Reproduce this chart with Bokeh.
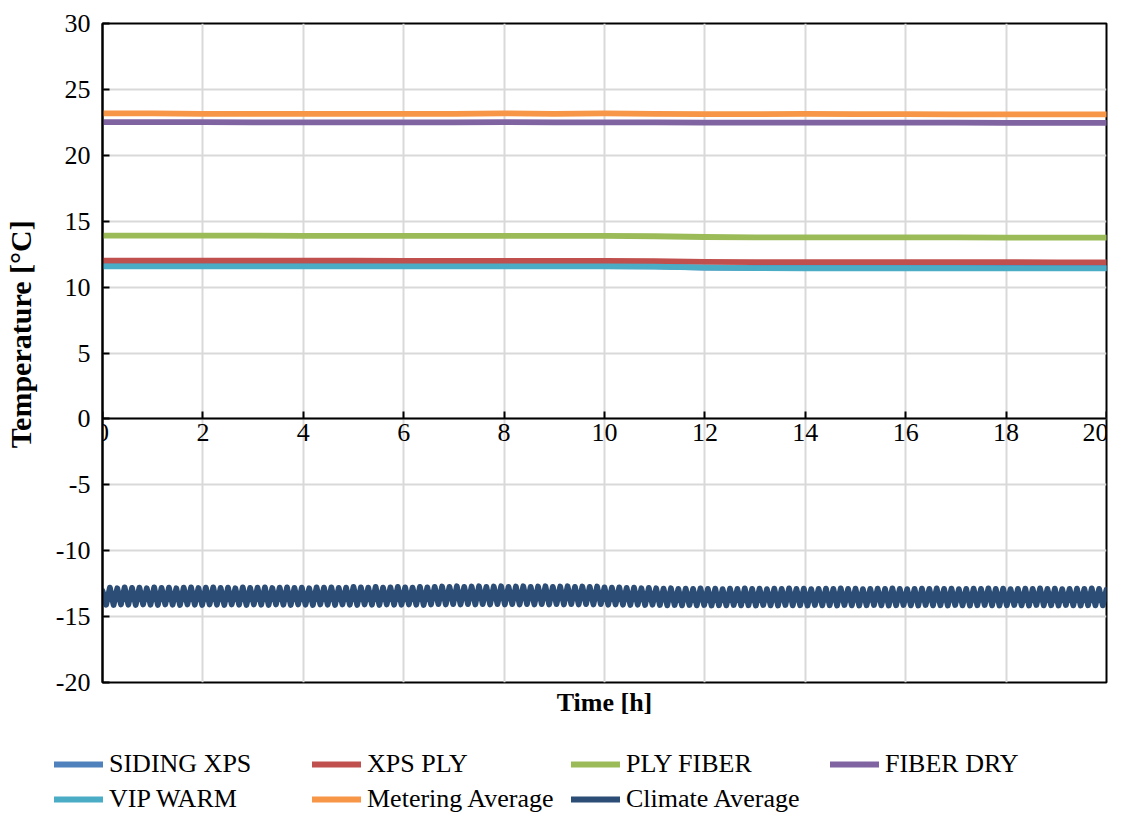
import numpy as np
from bokeh.plotting import figure
from bokeh.layouts import column, row
from bokeh.models import Legend, LegendItem, Range1d, FixedTicker, LinearAxis
from bokeh.embed import file_html
from bokeh.resources import INLINE

# ---------------- data ----------------
hours = list(range(21))
siding_xps = [11.60, 11.60, 11.60, 11.60, 11.60, 11.60, 11.60, 11.60, 11.60, 11.60, 11.60,
              11.58, 11.48, 11.46, 11.45, 11.45, 11.45, 11.45, 11.45, 11.45, 11.45]
xps_ply = [12.00, 12.00, 12.00, 12.00, 12.00, 12.00, 11.98, 11.98, 11.98, 11.98, 11.98,
           11.97, 11.92, 11.90, 11.90, 11.90, 11.90, 11.90, 11.90, 11.88, 11.88]
ply_fiber = [13.90, 13.90, 13.90, 13.90, 13.88, 13.88, 13.88, 13.88, 13.88, 13.88, 13.88,
             13.86, 13.80, 13.78, 13.77, 13.77, 13.77, 13.77, 13.76, 13.76, 13.76]
fiber_dry = [22.52, 22.52, 22.52, 22.50, 22.50, 22.50, 22.50, 22.50, 22.52, 22.50, 22.50,
             22.50, 22.48, 22.48, 22.48, 22.48, 22.48, 22.48, 22.46, 22.46, 22.46]
vip_warm = [11.58, 11.58, 11.58, 11.58, 11.58, 11.57, 11.57, 11.57, 11.57, 11.57, 11.57,
            11.55, 11.47, 11.44, 11.43, 11.43, 11.43, 11.43, 11.42, 11.42, 11.42]
metering_avg = [23.18, 23.18, 23.15, 23.15, 23.15, 23.15, 23.15, 23.15, 23.18, 23.15, 23.18,
                23.15, 23.12, 23.12, 23.15, 23.12, 23.12, 23.10, 23.10, 23.10, 23.10]
climate_avg = [
    -13.05, -14.10, -12.80, -14.12, -12.85, -14.08, -12.78, -14.10, -12.82, -14.12,
    -12.80, -14.08, -12.85, -14.10, -12.78, -14.12, -12.82, -14.08, -12.80, -14.10,
    -12.85, -14.12, -12.80, -14.08, -12.78, -14.10, -12.83, -14.12, -12.80, -14.08,
    -12.78, -14.10, -12.82, -14.12, -12.80, -14.08, -12.85, -14.10, -12.78, -14.12,
    -12.82, -14.08, -12.80, -14.10, -12.78, -14.12, -12.83, -14.08, -12.80, -14.10,
    -12.78, -14.12, -12.82, -14.08, -12.80, -14.10, -12.85, -14.12, -12.78, -14.08,
    -12.80, -14.10, -12.78, -14.12, -12.82, -14.08, -12.80, -14.10, -12.75, -14.12,
    -12.78, -14.08, -12.80, -14.10, -12.75, -14.12, -12.80, -14.08, -12.78, -14.10,
    -12.75, -14.10, -12.78, -14.08, -12.80, -14.10, -12.75, -14.12, -12.78, -14.08,
    -12.75, -14.05, -12.72, -14.08, -12.75, -14.05, -12.70, -14.08, -12.75, -14.05,
    -12.72, -14.08, -12.70, -14.05, -12.75, -14.08, -12.72, -14.05, -12.70, -14.08,
    -12.75, -14.05, -12.72, -14.08, -12.70, -14.05, -12.75, -14.08, -12.72, -14.05,
    -12.70, -14.08, -12.75, -14.05, -12.72, -14.08, -12.70, -14.05, -12.75, -14.08,
    -12.72, -14.05, -12.75, -14.08, -12.72, -14.05, -12.78, -14.10, -12.80, -14.08,
    -12.78, -14.10, -12.82, -14.12, -12.80, -14.10, -12.85, -14.12, -12.82, -14.10,
    -12.85, -14.12, -12.88, -14.15, -12.85, -14.12, -12.90, -14.15, -12.88, -14.12,
    -12.90, -14.15, -12.86, -14.12, -12.90, -14.16, -12.88, -14.14, -12.92, -14.15,
    -12.88, -14.12, -12.90, -14.15, -12.86, -14.14, -12.90, -14.16, -12.88, -14.12,
    -12.92, -14.15, -12.88, -14.16, -12.90, -14.12, -12.86, -14.15, -12.90, -14.14,
    -12.88, -14.16, -12.92, -14.12, -12.90, -14.15, -12.88, -14.14, -12.90, -14.16,
    -12.86, -14.12, -12.90, -14.15, -12.88, -14.16, -12.92, -14.14, -12.90, -14.12,
    -12.88, -14.15, -12.90, -14.16, -12.86, -14.14, -12.90, -14.12, -12.92, -14.15,
    -12.90, -14.16, -12.88, -14.12, -12.90, -14.15, -12.86, -14.14, -12.90, -14.16,
    -12.88, -14.12, -12.92, -14.15, -12.90, -14.16, -12.88, -14.14, -12.90, -14.12,
    -12.86, -14.15, -12.90, -14.16, -12.88, -14.14, -12.92, -14.12, -12.90, -14.15,
    -12.88, -14.16, -12.90, -14.12, -12.86, -14.15, -12.90, -14.14, -12.88, -14.16,
    -12.92, -14.12, -12.90, -14.15, -12.88, -14.16, -12.90, -14.14, -12.86, -14.15,
    -12.90, -14.15, -12.95,
]
climate_time = np.linspace(0, 20, len(climate_avg))

series_names = ["SIDING XPS", "XPS PLY", "PLY FIBER", "FIBER DRY",
                "VIP WARM", "Metering Average", "Climate Average"]
series_colors = ["#4F81BD", "#C0504D", "#9BBB59", "#8064A2",
                 "#4BACC6", "#F79646", "#2C4D75"]
x_ticks = [0, 2, 4, 6, 8, 10, 12, 14, 16, 18, 20]
y_ticks = [-20, -15, -10, -5, 0, 5, 10, 15, 20, 25, 30]
y_tick_labels = ["-20", "-15", "-10", "-5", "0", "5", "10", "15", "20", "25", "30"]

FONT = "Liberation Serif"
FS = "26px"
LW = 5.8

# ---------------- main chart ----------------
p = figure(width=1108, height=722, output_backend="svg", toolbar_location=None,
           x_range=Range1d(0, 20), y_range=Range1d(-20, 30),
           min_border_left=102, min_border_right=2, min_border_top=23,
           min_border_bottom=40)
p.background_fill_color = "white"
p.border_fill_color = "white"
p.outline_line_color = "black"
p.outline_line_width = 2

p.xaxis.fixed_location = 0
p.xaxis.ticker = FixedTicker(ticks=x_ticks)
p.yaxis.ticker = FixedTicker(ticks=y_ticks)
p.yaxis.major_label_overrides = {t: s for t, s in zip(y_ticks, y_tick_labels)}
for ax in (p.xaxis, p.yaxis):
    ax.axis_line_color = "black"
    ax.axis_line_width = 2
    ax.major_tick_line_color = "black"
    ax.major_tick_line_width = 2
    ax.major_tick_in = 7
    ax.major_tick_out = 0
    ax.minor_tick_line_color = None
    ax.major_label_text_font = FONT
    ax.major_label_text_font_size = FS
    ax.major_label_text_color = "black"
p.xaxis.major_label_standoff = 5
p.yaxis.major_label_standoff = 12
# leading no-break spaces lift the title a little above the frame centre
p.yaxis.axis_label = "\u00a0" * 5 + "Temperature [°C]"
p.yaxis.axis_label_text_font = FONT
p.yaxis.axis_label_text_font_size = "30px"
p.yaxis.axis_label_text_font_style = "bold"
p.yaxis.axis_label_text_color = "black"
p.yaxis.axis_label_standoff = 16

xt = LinearAxis(axis_label="Time [h]", axis_line_color=None,
                major_tick_line_color=None, minor_tick_line_color=None,
                major_label_text_font_size="0px", major_label_standoff=0,
                major_tick_in=0, major_tick_out=0,
                axis_label_standoff=5, axis_label_text_font=FONT,
                axis_label_text_font_size=FS, axis_label_text_font_style="bold",
                axis_label_text_color="black", ticker=FixedTicker(ticks=[]))
p.add_layout(xt, "below")

p.xgrid.ticker = FixedTicker(ticks=x_ticks)
p.ygrid.ticker = FixedTicker(ticks=y_ticks)
for g in (p.xgrid, p.ygrid):
    g.grid_line_color = "#D9D9D9"
    g.grid_line_width = 2

data = [siding_xps, xps_ply, ply_fiber, fiber_dry, vip_warm, metering_avg]
for vals, col in zip(data, series_colors[:6]):
    p.line(hours, vals, line_color=col, line_width=LW,
           line_join="round", line_cap="round")
p.line(climate_time, climate_avg, line_color=series_colors[6],
       line_width=LW, line_join="round", line_cap="round")

# ---------------- legend strip ----------------
lf = figure(width=1108, height=92, output_backend="svg", toolbar_location=None,
            x_range=Range1d(0, 1), y_range=Range1d(0, 1),
            min_border_left=0, min_border_right=0, min_border_top=0,
            min_border_bottom=0)
lf.axis.visible = False
lf.grid.visible = False
lf.outline_line_color = None
lf.background_fill_color = "white"
lf.border_fill_color = "white"

# legend-only renderers (their points lie outside the visible range)
dummy = [lf.line([5, 6], [5, 6], line_color=c, line_width=LW, line_cap="round")
         for c in series_colors]

legend_columns = [([0, 4], 54), ([1, 5], 312), ([2, 6], 571), ([3], 830)]
for idx, xpos in legend_columns:
    items = [LegendItem(label=series_names[i], renderers=[dummy[i]]) for i in idx]
    n = len(items)
    h = n * 30 + (n - 1) * 5
    leg = Legend(items=items, orientation="vertical",
                 location=(xpos, 92 - 27 - h),
                 label_text_font=FONT, label_text_font_size=FS,
                 label_text_color="black", glyph_width=49, glyph_height=30,
                 label_height=30, label_standoff=6, spacing=5, padding=0,
                 margin=0, border_line_alpha=0, background_fill_alpha=0)
    lf.add_layout(leg)

layout = column(p, row(lf), spacing=0)
open("out.html", "w").write(file_html(layout, INLINE))
